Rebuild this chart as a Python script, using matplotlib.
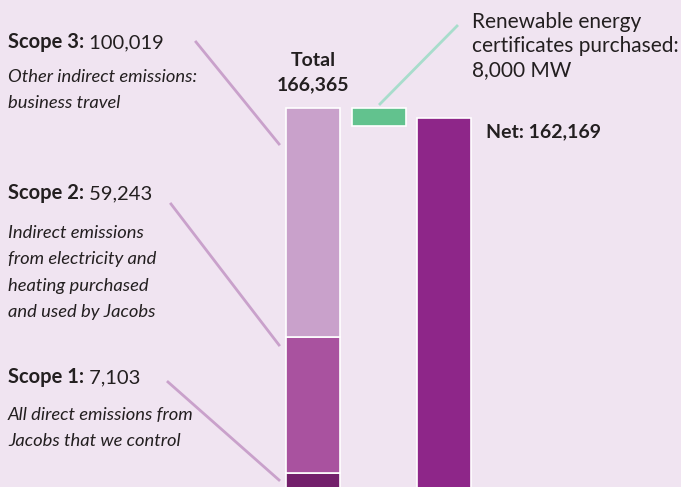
import matplotlib
matplotlib.use("Agg")
import matplotlib.pyplot as plt

# ---- data ----
scope_names = ["Scope 1", "Scope 2", "Scope 3"]
scope_values = [7103, 59243, 100019]
scope_desc = [
    "All direct emissions from\nJacobs that we control",
    "Indirect emissions\nfrom electricity and\nheating purchased\nand used by Jacobs",
    "Other indirect emissions:\nbusiness travel",
]
total_value = 166365
rec_value = 8000
net_value = 162169
rec_label = "Renewable energy\ncertificates purchased:\n8,000 MW"

# ---- style ----
BG = "#F0E4F1"
TXT = "#231F20"
scope_colors = ["#731F6B", "#A9529F", "#C9A1CB"]
GREEN = "#62C28E"
NET = "#8E2689"
LINE_PURPLE = "#C9A1CB"
LINE_GREEN = "#A8DDCC"
FONT = "Lato"

W, H = 681, 487
fig = plt.figure(figsize=(W / 100, H / 100), dpi=100, facecolor=BG)
ax = fig.add_axes([0, 0, 1, 1])
ax.set_facecolor(BG)
ax.set_axis_off()

units_per_px = total_value / 381.0
ax.set_ylim(2 * units_per_px, (2 + H) * units_per_px)
spacing = 65.5
ax.set_xlim(-313 / spacing, (W - 313) / spacing)
bw = 54 / spacing

# stacked total bar
bottom = 0
for v, c in zip(scope_values, scope_colors):
    ax.bar(0, v, bottom=bottom, width=bw, color=c, edgecolor="white", linewidth=1.2)
    bottom += v
# REC bar (floating)
ax.bar(1, rec_value, bottom=total_value - rec_value, width=bw, color=GREEN,
       edgecolor="white", linewidth=1.2)
# net bar
ax.bar(2, net_value, width=bw, color=NET, edgecolor="white", linewidth=1.2)


def fy(y):
    return 1 - y / H


def fx(x):
    return x / W


def label(x, y, bold, regular, size=14.5):
    t = fig.text(fx(x), fy(y), bold, fontsize=size, fontweight="bold",
                 family=FONT, color=TXT, va="baseline", ha="left")
    fig.canvas.draw()
    bb = t.get_window_extent()
    fig.text(bb.x1 / W, fy(y), " " + regular, fontsize=size, family=FONT,
             color=TXT, va="baseline", ha="left")


# scope labels
label_y = {"Scope 3": 48, "Scope 2": 199, "Scope 1": 383}
desc_y = {"Scope 3": 82, "Scope 2": 238, "Scope 1": 420}
for name, v, d in zip(scope_names, scope_values, scope_desc):
    label(8, label_y[name], name + ":", f"{v:,}")
    for i, line in enumerate(d.split("\n")):
        fig.text(fx(8), fy(desc_y[name] + 26.3 * i), line, fontsize=13.2, style="italic",
                 family=FONT, color=TXT, va="baseline")

# connector lines (figure-pixel annotations)
conns = [((196, 42), (279, 144)), ((171, 204), (279, 345)), ((168, 382), (279, 480))]
for (x0, y0), (x1, y1) in conns:
    fig.add_artist(plt.Line2D([fx(x0), fx(x1)], [fy(y0), fy(y1)], color=LINE_PURPLE, lw=2))
fig.add_artist(plt.Line2D([fx(457), fx(380)], [fy(26), fy(104)], color=LINE_GREEN, lw=2))

# total label
fig.text(fx(313), fy(66), "Total", fontsize=14, fontweight="bold", family=FONT,
         color=TXT, ha="center", va="baseline")
fig.text(fx(313), fy(90), f"{total_value:,}", fontsize=14, fontweight="bold",
         family=FONT, color=TXT, ha="center", va="baseline")

# REC label
for i, line in enumerate(rec_label.split("\n")):
    fig.text(fx(472), fy(28 + 24 * i), line, fontsize=15, family=FONT, color=TXT,
             va="baseline")

# Net label
fig.text(fx(486), fy(137), f"Net: {net_value:,}", fontsize=14, fontweight="bold",
         family=FONT, color=TXT, va="baseline")

fig.savefig("out.png", dpi=100, facecolor=BG)
